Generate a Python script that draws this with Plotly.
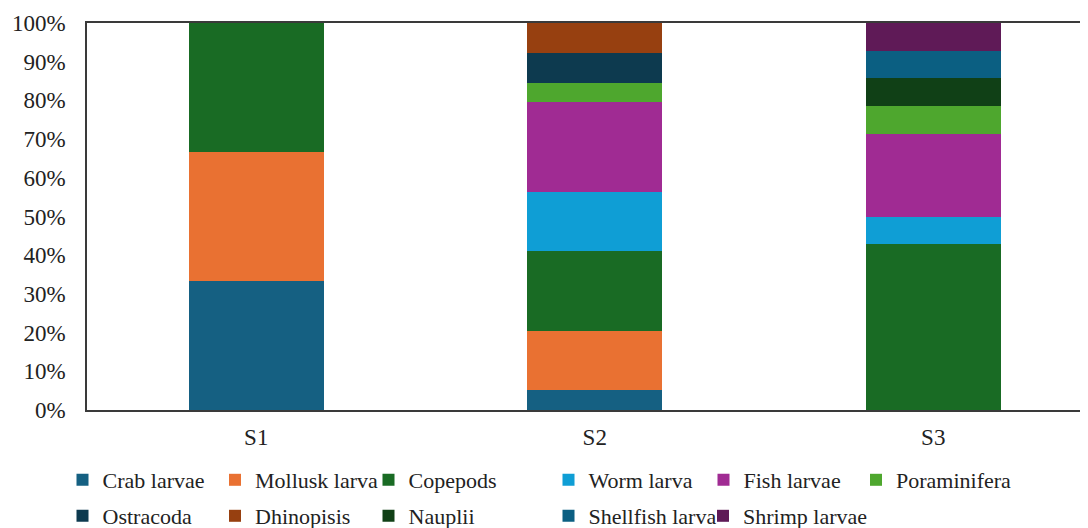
import plotly.graph_objects as go

categories = ["S1", "S2", "S3"]

crab_larvae = [33.33, 5.13, 0]
mollusk_larva = [33.33, 15.38, 0]
copepods = [33.34, 20.51, 42.86]
worm_larva = [0, 15.38, 7.14]
fish_larvae = [0, 23.08, 21.43]
poraminifera = [0, 5.13, 7.14]
ostracoda = [0, 7.69, 0]
dhinopisis = [0, 7.69, 0]
nauplii = [0, 0, 7.14]
shellfish_larva = [0, 0, 7.14]
shrimp_larvae = [0, 0, 7.15]

y_ticks = [0, 10, 20, 30, 40, 50, 60, 70, 80, 90, 100]
y_tick_labels = ["0%", "10%", "20%", "30%", "40%", "50%", "60%", "70%", "80%", "90%", "100%"]

series_names = ["Crab larvae", "Mollusk larva", "Copepods", "Worm larva", "Fish larvae",
                "Poraminifera", "Ostracoda", "Dhinopisis", "Nauplii", "Shellfish larva",
                "Shrimp larvae"]
series_values = [crab_larvae, mollusk_larva, copepods, worm_larva, fish_larvae,
                 poraminifera, ostracoda, dhinopisis, nauplii, shellfish_larva,
                 shrimp_larvae]
series_colors = ["#156082", "#E97132", "#196B24", "#0F9ED5", "#A02B93", "#4EA72E",
                 "#0D3A4F", "#974010", "#104016", "#0B5F82", "#5F1A57"]

# legend entry positions (figure px): left edge x, top y  -- two rows of entries
legend_pos = [(54.5, 451), (207, 451), (360.5, 451), (540.5, 451), (695.5, 451), (848, 451),
              (54.5, 487), (207, 487), (360.5, 487), (540.5, 487), (695, 487)]

FONT = "Liberation Serif, Times New Roman, serif"
TXT = "#222222"

# page has an 8px body margin; figure sized to fit the window
W, H = 1080, 520
left, top, bottom = 79, 15, 117.5
plot_w = W - left
cat_px = 338.5

fig = go.Figure()
legend_layouts = {}
for i, (name, vals, color) in enumerate(zip(series_names, series_values, series_colors)):
    key = "legend" if i == 0 else f"legend{i + 1}"
    fig.add_trace(go.Bar(
        x=categories, y=vals, name=name, legend=key,
        marker=dict(color=color, line=dict(width=0)),
    ))
    lx, ly = legend_pos[i]
    legend_layouts[key] = dict(
        orientation="h",
        xref="container", yref="container",
        x=lx / W, y=1 - ly / H, xanchor="left", yanchor="top",
        font=dict(family=FONT, size=22, color=TXT),
        bgcolor="rgba(0,0,0,0)",
    )

fig.update_layout(
    width=W, height=H,
    barmode="stack",
    bargap=0.6,
    plot_bgcolor="white",
    paper_bgcolor="white",
    margin=dict(l=left, r=0, t=top, b=bottom, autoexpand=False),
    font=dict(family=FONT, size=22, color=TXT),
    xaxis=dict(
        type="category",
        range=[-0.5, -0.5 + plot_w / cat_px],
        showline=True, linecolor="#3a3a3a", linewidth=1.5, mirror=True,
        showgrid=False, ticks="", ticklabelstandoff=6,
        tickfont=dict(family=FONT, size=23, color=TXT),
    ),
    yaxis=dict(
        range=[0, 100],
        tickvals=y_ticks, ticktext=y_tick_labels,
        showline=True, linecolor="#3a3a3a", linewidth=1.5,
        showgrid=False, zeroline=False, ticks="", ticklabelstandoff=15,
        tickfont=dict(family=FONT, size=23, color=TXT),
    ),
    showlegend=True,
    **legend_layouts,
)

fig.write_html("out.html")
